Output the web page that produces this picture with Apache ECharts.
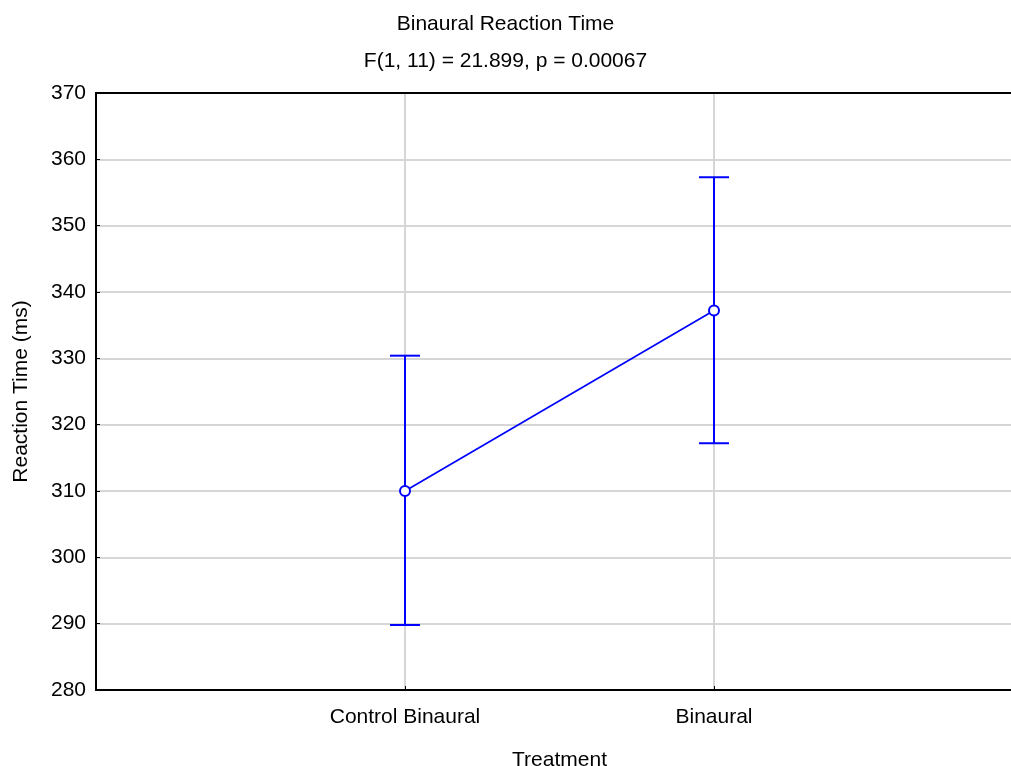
<!DOCTYPE html>
<html>
<head>
<meta charset="utf-8">
<script src="https://cdn.jsdelivr.net/npm/echarts@6/dist/echarts.min.js"></script>
<style>
  html, body { margin: 0; padding: 0; background: #fff; }
  #chart { width: 1011px; height: 766px; }
</style>
</head>
<body>
<div id="chart"></div>
<script>
// Treatment levels (blank slots pad the axis on both sides)
const categories = ['', 'Control Binaural', 'Binaural', ''];
const groups = ['Control Binaural', 'Binaural'];
// Mean reaction time (ms) and confidence interval bounds
const means = [310.0, 337.2];
const lower = [289.8, 317.2];
const upper = [330.4, 357.3];
// Y axis range and step
const yMin = 280, yMax = 370, yStep = 10;

const FONT = '"Liberation Sans", Arial, sans-serif';
const FS = 21;

const chart = echarts.init(document.getElementById('chart'));

const meanData = groups.map((g, i) => [g, means[i]]);
const barData = groups.map((g, i) => [g, lower[i], upper[i]]);

chart.setOption({
  animation: false,
  backgroundColor: '#ffffff',
  textStyle: { fontFamily: FONT },
  title: [
    { text: 'Binaural Reaction Time', left: 'center', top: 9,
      textStyle: { fontFamily: FONT, fontSize: FS, fontWeight: 'normal', color: '#000' } },
    { text: 'F(1, 11) = 21.899, p = 0.00067', left: 'center', top: 46,
      textStyle: { fontFamily: FONT, fontSize: FS, fontWeight: 'normal', color: '#000' } }
  ],
  grid: {
    left: 96, top: 93, right: -12, bottom: 76,
    outerBoundsMode: 'none',
    containLabel: false,
    show: false
  },
  xAxis: [
    {
      type: 'category',
      data: categories,
      boundaryGap: false,
      name: 'Treatment',
      nameLocation: 'middle',
      nameGap: 60,
      nameTextStyle: { fontFamily: FONT, fontSize: FS, color: '#000' },
      axisLine: { lineStyle: { color: '#000', width: 2 } },
      axisTick: { show: true, inside: true, length: 4, lineStyle: { color: '#000', width: 1 } },
      axisLabel: { fontFamily: FONT, fontSize: FS, color: '#000', margin: 17, interval: 0 },
      splitLine: {
        show: true,
        showMinLine: false,
        showMaxLine: false,
        lineStyle: { color: '#d6d6d6', width: 2 }
      },
      z: 2
    },
    {
      // top frame line
      type: 'category',
      position: 'top',
      data: categories,
      boundaryGap: false,
      axisLine: { show: true, lineStyle: { color: '#000', width: 2 } },
      axisTick: { show: false },
      axisLabel: { show: false },
      splitLine: { show: false },
      z: 2
    }
  ],
  yAxis: {
    type: 'value',
    min: yMin, max: yMax, interval: yStep,
    name: 'Reaction Time (ms)',
    nameLocation: 'middle',
    nameGap: 64,
    nameTextStyle: { fontFamily: FONT, fontSize: FS, color: '#000' },
    axisLine: { show: true, lineStyle: { color: '#000', width: 2 } },
    axisTick: { show: true, inside: true, length: 4, lineStyle: { color: '#000', width: 1 } },
    axisLabel: { fontFamily: FONT, fontSize: FS, color: '#000', margin: 10 },
    splitLine: {
      show: true,
      showMinLine: false,
      showMaxLine: false,
      lineStyle: { color: '#d6d6d6', width: 2 }
    },
    z: 3
  },
  series: [
    {
      type: 'custom',
      data: barData,
      z: 3,
      renderItem: function (params, api) {
        const x = api.value(0);
        const lo = api.coord([x, api.value(1)]);
        const hi = api.coord([x, api.value(2)]);
        const half = 15;
        const style = { stroke: '#0000ff', lineWidth: 2, fill: null };
        return {
          type: 'group',
          children: [
            { type: 'line', shape: { x1: lo[0], y1: lo[1], x2: hi[0], y2: hi[1] }, style: style },
            { type: 'line', shape: { x1: hi[0] - half, y1: hi[1], x2: hi[0] + half, y2: hi[1] }, style: style },
            { type: 'line', shape: { x1: lo[0] - half, y1: lo[1], x2: lo[0] + half, y2: lo[1] }, style: style }
          ]
        };
      }
    },
    {
      type: 'line',
      data: meanData,
      z: 4,
      symbol: 'circle',
      symbolSize: 10,
      lineStyle: { color: '#0000ff', width: 1.7 },
      itemStyle: { color: '#ffffff', borderColor: '#0000ff', borderWidth: 2 }
    }
  ]
});
</script>
</body>
</html>
